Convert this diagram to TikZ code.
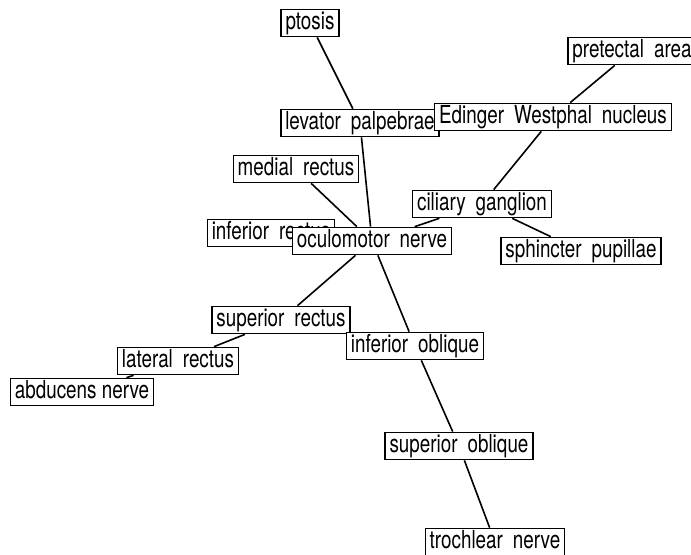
\documentclass[tikz,border=0pt]{standalone}
\usepackage{fontspec}
\newfontfamily\boxfont[FakeStretch=0.76]{TeX Gyre Heros}
\usetikzlibrary{backgrounds}
\newcommand{\wsp}{\hspace{5pt}}

\begin{document}
\begin{tikzpicture}[x=0.5pt,y=-0.5pt,
		term/.style={draw,fill=white,line width=0.65pt,inner xsep=2.2pt,inner ysep=1pt,
			text height=9.1pt,text depth=2.6pt,font=\boxfont\fontsize{12.4}{13}\selectfont},
		link/.style={line width=0.8pt}]
		\useasboundingbox (0,0) rectangle (691,555);
		% terms
		\node[term] (ptosis) at (310,23) {ptosis};
		\node[term] (pretectal) at (632,51) {pretectal\wsp area};
		\node[term] (levator) at (360,123) {levator\wsp palpebrae};
		\node[term] (edinger) at (553,117) {Edinger\wsp Westphal\wsp nucleus};
		\node[term] (medial) at (296,169) {medial\wsp rectus};
		\node[term] (ciliary) at (482,204) {ciliary\wsp ganglion};
		\node[term] (infrect) at (271,233) {inferior\wsp rectus};
		\node[term] (oculo) at (372,241) {oculomotor\wsp nerve};
		\node[term] (sphincter) at (581,251) {sphincter\wsp pupillae};
		\node[term] (suprect) at (281,320) {superior\wsp rectus};
		\node[term] (infobl) at (415,346) {inferior\wsp oblique};
		\node[term] (latrect) at (178,361) {lateral\wsp rectus};
		\node[term] (abducens) at (82,392) {abducens nerve};
		\node[term] (supobl) at (459,446) {superior\wsp oblique};
		\node[term] (trochlear) at (495,542) {trochlear\wsp nerve};
		% links
		\begin{scope}[on background layer]
			\draw[link] (ptosis) -- (levator);
			\draw[link] (levator) -- (oculo);
			\draw[link] (pretectal) -- (edinger);
			\draw[link] (edinger) -- (ciliary);
			\draw[link] (ciliary) -- (oculo);
			\draw[link] (ciliary) -- (sphincter);
			\draw[link] (medial) -- (oculo);
			\draw[link] (oculo) -- (suprect);
			\draw[link] (suprect) -- (latrect);
			\draw[link] (latrect) -- (abducens);
			\draw[link] (oculo) -- (infobl);
			\draw[link] (infobl) -- (supobl);
			\draw[link] (supobl) -- (trochlear);
		\end{scope}
\end{tikzpicture}
\end{document}
